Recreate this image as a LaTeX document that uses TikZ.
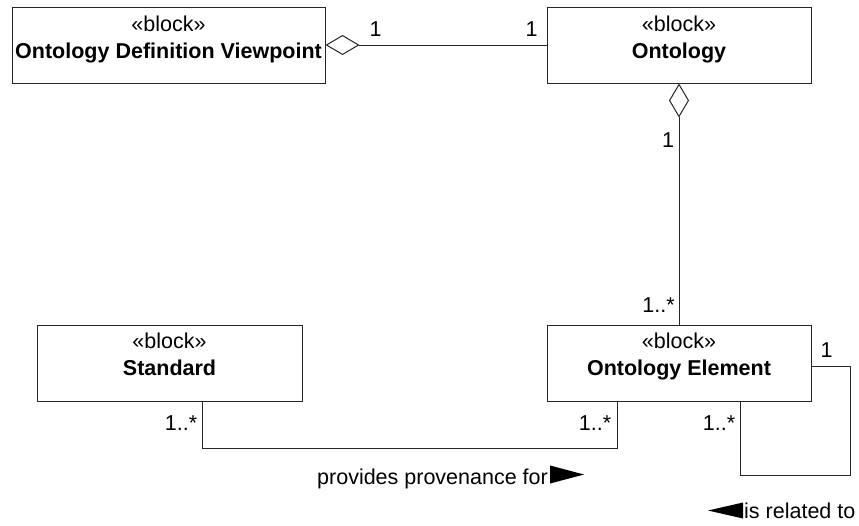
\documentclass[tikz,border=0pt]{standalone}
\usepackage{fontspec}
\setmainfont{Liberation Sans}
\usetikzlibrary{arrows.meta,positioning}
\tikzset{
    %Define standard arrow tip
    >=Stealth,
    %Define style for blocks
    block/.style={
           draw=black!85,
           line width=1pt,
           minimum height=76pt,
           inner sep=0pt},
    blocktext/.style={
           align=center,
           inner sep=0pt,
           font=\fontsize{21.5}{27.5}\selectfont},
    mult/.style={
           inner sep=0pt,
           font=\fontsize{21.5}{26}\selectfont},
    reltext/.style={
           inner sep=0pt,
           anchor=west,
           font=\fontsize{21.5}{26}\selectfont},
    % Define connector styles
    assoc/.style={
           line width=1pt,
           draw=black!85},
    agg/.style={
           assoc,
           {Diamond[open,length=34pt,width=20pt]}-}
}

\begin{document}
\begin{tikzpicture}[x=1pt,y=-1pt]
\useasboundingbox (0,0) rectangle (859,525);
 %nodes
\node[block, minimum width=313pt] (odv) at (168.5,45) {};
\node[block, minimum width=264pt, right=221pt of odv] (onto) {};
\node[block, minimum width=264pt, below=241pt of onto] (elem) {};
\node[block, minimum width=265pt, left=244pt of elem] (std) {};
\node[blocktext, below=9pt of odv.north] (odv-t) {«block»\\\textbf{Ontology Definition Viewpoint}};
\node[blocktext, below=9pt of onto.north] (onto-t) {«block»\\\textbf{Ontology}};
\node[blocktext, below=8pt of elem.north] (elem-t) {«block»\\\textbf{Ontology Element}};
\node[blocktext, below=8pt of std.north] (std-t) {«block»\\\textbf{Standard}};
 %ends of the connectors
\coordinate (std-a) at ([xshift=32.5pt]std.south);
\coordinate (elem-a) at ([xshift=-62pt]elem.south);
\coordinate (elem-r) at ([yshift=-3.5pt]elem.east);
\coordinate (elem-b) at ([xshift=61pt]elem.south);
 %connectors
\path (odv) edge[agg] (onto)
    (onto) edge[agg] (elem);
\draw[assoc] (std-a) -- ++(0,47) -| (elem-a);
\draw[assoc] (elem-r) -- ++(39,0) -- ++(0,109) -| (elem-b);
 %multiplicities
\node[mult] (m-odv) at ([shift={(50,-16)}]odv.east) {1};
\node[mult] (m-onto) at ([shift={(-15,-16)}]onto.west) {1};
\node[mult] (m-whole) at ([shift={(-11,56.5)}]onto.south) {1};
\node[mult] (m-part) at ([shift={(-20.5,-19.5)}]elem.north) {1..*};
\node[mult] (m-std) at ([shift={(-21,21.5)}]std-a) {1..*};
\node[mult] (m-prov) at ([shift={(-22,21.5)}]elem-a) {1..*};
\node[mult] (m-r1) at ([shift={(15,-16.5)}]elem-r) {1};
\node[mult] (m-r2) at ([shift={(-21,21.5)}]elem-b) {1..*};
 %association names
\node[reltext] (prov) at ([shift={(115,77)}]std-a) {provides provenance for};
\fill (prov.east) ++(2,-13) -- ++(0,18) -- ++(34,-9) -- cycle;
\node[reltext] (rel) at ([shift={(4,109)}]elem-b) {is related to};
\fill (rel.west) ++(-1,-8) -- ++(0,16) -- ++(-35,-8) -- cycle;
\end{tikzpicture}
\end{document}
